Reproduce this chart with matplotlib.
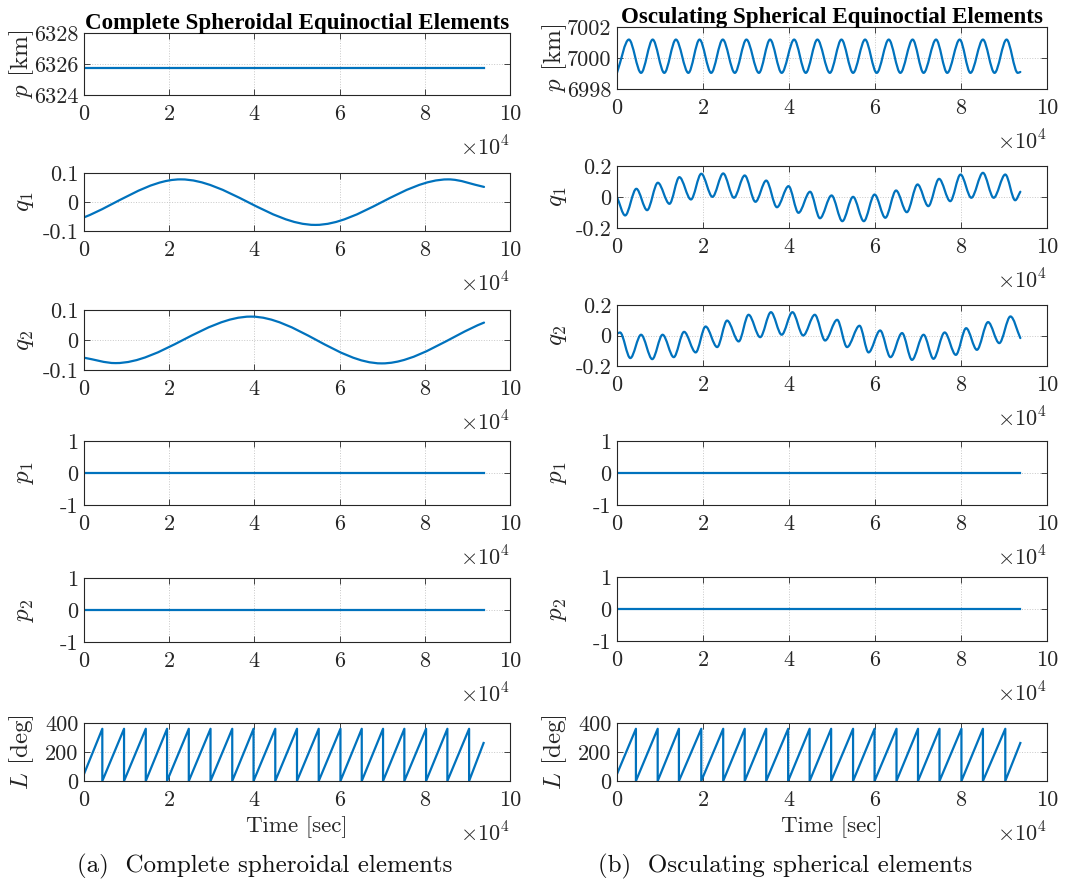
import numpy as np
import matplotlib
matplotlib.use("Agg")
import matplotlib.pyplot as plt
from matplotlib.path import Path
from matplotlib.patches import PathPatch

plt.rcParams['font.family'] = 'serif'
plt.rcParams['font.serif'] = ['cmr10']
plt.rcParams['mathtext.fontset'] = 'cm'
plt.rcParams['axes.unicode_minus'] = False
plt.rcParams['axes.formatter.use_mathtext'] = True

# ---------------- data (time in units of 1e4 s) ----------------
t_end = 9.38

# Complete spheroidal elements (left column)
p_left = 6325.75
q1_left_t = [0.0, 2.27, 5.43, 8.55, 9.39]
q1_left_v = [-0.053, 0.078, -0.079, 0.078, 0.052]
q2_left_t = [0.0, 0.74, 3.92, 6.99, 9.39]
q2_left_v = [-0.059, -0.077, 0.078, -0.078, 0.058]
p1_left = 0.0
p2_left = 0.0
L_left_wraps = [0.43, 0.94, 1.45, 1.95, 2.46, 2.97, 3.48, 3.98, 4.49, 5.00,
                5.51, 6.02, 6.52, 7.02, 7.52, 8.03, 8.53, 9.04]
L_left_start, L_left_end = 48.0, 262.0

# Osculating spherical elements (right column)
p_right_t = [0.0, 0.277, 0.56, 0.83, 1.10, 1.37, 1.66, 1.92, 2.19, 2.46, 2.74,
             3.01, 3.30, 3.56, 3.83, 4.12, 4.39, 4.66, 4.95, 5.22, 5.49, 5.77,
             6.04, 6.32, 6.59, 6.875, 7.13, 7.42, 7.68, 7.97, 8.22, 8.51, 8.78,
             9.06, 9.32, 9.38]
p_right_v = [6999.05, 7001.19, 6999.04, 7001.19, 6999.04, 7001.19, 6999.04,
             7001.19, 6999.04, 7001.19, 6999.04, 7001.19, 6999.04, 7001.19,
             6999.04, 7001.19, 6999.04, 7001.19, 6999.04, 7001.19, 6999.04,
             7001.19, 6999.04, 7001.19, 6999.04, 7001.19, 6999.04, 7001.19,
             6999.04, 7001.19, 6999.04, 7001.19, 6999.04, 7001.19, 6999.04,
             6999.10]
q1_right_t = [0.0, 0.19, 0.45, 0.70, 0.95, 1.22, 1.45, 1.72, 1.96, 2.22, 2.47,
              2.72, 2.97, 3.22, 3.47, 3.72, 3.99, 4.22, 4.49, 4.72, 4.99, 5.24,
              5.49, 5.74, 5.99, 6.24, 6.49, 6.74, 6.99, 7.24, 7.49, 7.75, 7.99,
              8.24, 8.51, 8.76, 9.03, 9.26, 9.38]
q1_right_v = [0.0, -0.119, 0.053, -0.085, 0.092, -0.044, 0.128, -0.016, 0.150,
              0.001, 0.152, -0.005, 0.139, -0.031, 0.106, -0.066, 0.070, -0.102,
              0.034, -0.137, 0.010, -0.156, 0.001, -0.156, 0.016, -0.134, 0.042,
              -0.098, 0.081, -0.059, 0.117, -0.027, 0.145, -0.005, 0.156, -0.005,
              0.145, -0.021, 0.034]
q2_right_t = [0.0, 0.07, 0.31, 0.56, 0.82, 1.06, 1.32, 1.56, 1.83, 2.06, 2.33,
              2.56, 2.83, 3.06, 3.33, 3.58, 3.83, 4.08, 4.33, 4.60, 4.84, 5.12,
              5.35, 5.64, 5.85, 6.12, 6.36, 6.63, 6.86, 7.13, 7.36, 7.62, 7.88,
              8.12, 8.37, 8.63, 8.89, 9.15, 9.38]
q2_right_v = [0.011, 0.020, -0.148, 0.005, -0.155, 0.005, -0.142, 0.024, -0.111,
              0.059, -0.076, 0.098, -0.039, 0.136, -0.011, 0.153, 0.005, 0.153,
              0.0, 0.136, -0.033, 0.103, -0.076, 0.064, -0.111, 0.033, -0.142,
              0.016, -0.160, 0.005, -0.153, 0.020, -0.127, 0.048, -0.094, 0.088,
              -0.050, 0.125, -0.017]
p1_right = 0.0
p2_right = 0.0
L_right_wraps = [0.44, 0.946, 1.44, 1.96, 2.47, 2.97, 3.47, 3.98, 4.48, 4.98,
                 5.49, 5.99, 6.50, 7.00, 7.50, 8.01, 8.51, 9.03]
L_right_start, L_right_end = 48.0, 262.0

x_ticks = [0, 2, 4, 6, 8, 10]
x_ticklabels = ['0', '2', '4', '6', '8', '10']

titles = ['Complete Spheroidal Equinoctial Elements',
          'Osculating Spherical Equinoctial Elements']
captions = ['(a)  Complete spheroidal elements', '(b)  Osculating spherical elements']
ylabels = [r'$p$ [km]', r'$q_1$', r'$q_2$', r'$p_1$', r'$p_2$', r'$L$ [deg]']

yticks_left = [[6324, 6326, 6328], [-0.1, 0, 0.1], [-0.1, 0, 0.1], [-1, 0, 1], [-1, 0, 1], [0, 200, 400]]
yticklabels_left = [['6324', '6326', '6328'], ['-0.1', '0', '0.1'], ['-0.1', '0', '0.1'],
                    ['-1', '0', '1'], ['-1', '0', '1'], ['0', '200', '400']]
yticks_right = [[6998, 7000, 7002], [-0.2, 0, 0.2], [-0.2, 0, 0.2], [-1, 0, 1], [-1, 0, 1], [0, 200, 400]]
yticklabels_right = [['6998', '7000', '7002'], ['-0.2', '0', '0.2'], ['-0.2', '0', '0.2'],
                     ['-1', '0', '1'], ['-1', '0', '1'], ['0', '200', '400']]

# ---------------- style ----------------
W, H = 1066, 890
LINE = '#0072BD'
LW = 1.6
TICK_FS = 16
TXT = '#262626'

left_rows = [(33, 95), (173, 231), (310, 370), (441, 505), (578, 642), (723, 781)]
right_rows = [(27, 89), (166, 228), (305, 366), (441, 505), (577, 641), (723, 781)]
left_x = (84, 510)
right_x = (617, 1047)

fig = plt.figure(figsize=(W / 100, H / 100), dpi=100)


def make_ax(xr, yr):
    return fig.add_axes([xr[0] / W, 1 - yr[1] / H, (xr[1] - xr[0]) / W, (yr[1] - yr[0]) / H])


def smooth_curve(ax, t, y):
    t = np.asarray(t, float) * 1e4
    y = np.asarray(y, float)
    n = len(t)
    m = np.zeros(n)
    for i in range(n):
        if i == 0:
            m[i] = (y[1] - y[0]) / (t[1] - t[0])
        elif i == n - 1:
            m[i] = (y[-1] - y[-2]) / (t[-1] - t[-2])
        else:
            s0 = (y[i] - y[i - 1]) / (t[i] - t[i - 1])
            s1 = (y[i + 1] - y[i]) / (t[i + 1] - t[i])
            m[i] = 0.0 if s0 * s1 <= 0 else 0.5 * (s0 + s1)
    verts = [(t[0], y[0])]
    codes = [Path.MOVETO]
    for i in range(n - 1):
        dt = t[i + 1] - t[i]
        verts += [(t[i] + dt / 3, y[i] + m[i] * dt / 3),
                  (t[i + 1] - dt / 3, y[i + 1] - m[i + 1] * dt / 3),
                  (t[i + 1], y[i + 1])]
        codes += [Path.CURVE4] * 3
    ax.add_patch(PathPatch(Path(verts, codes), facecolor='none', edgecolor=LINE,
                           lw=LW, capstyle='round', joinstyle='round'))


def sawtooth(ax, wraps, start, end):
    ts = [0.0]
    vs = [start]
    for w in wraps:
        ts += [w, w]
        vs += [360.0, 0.0]
    ts.append(t_end)
    vs.append(end)
    ax.plot(np.array(ts) * 1e4, vs, color=LINE, lw=LW)


def style(ax, yticks, yticklabels, ylabel, xlabel=None):
    ax.set_xlim(0, 1e5)
    ax.set_ylim(yticks[0], yticks[-1])
    ax.set_xticks([v * 1e4 for v in x_ticks])
    ax.set_xticklabels(x_ticklabels)
    ax.set_yticks(yticks)
    ax.set_yticklabels(yticklabels)
    ax.tick_params(direction='in', top=True, right=True, length=4, width=0.6,
                   labelsize=TICK_FS, colors=TXT)
    ax.tick_params(axis='x', pad=7)
    ax.tick_params(axis='y', pad=4)
    for s in ax.spines.values():
        s.set_color(TXT)
        s.set_linewidth(0.8)
    ax.grid(True, linestyle=':', color='#c8c8c8', linewidth=0.7)
    ax.set_axisbelow(True)
    ax.set_ylabel(ylabel, fontsize=18, color=TXT)
    ax.yaxis.set_label_coords(-0.112, 0.5)
    if xlabel:
        ax.set_xlabel(xlabel, fontsize=16.5, color=TXT, labelpad=4)
    ax.annotate(r'$\times10^4$', xy=(1.0, 0.0), xycoords='axes fraction',
                xytext=(0, -38), textcoords='offset points', ha='right', va='center',
                fontsize=16, color=TXT)


# ---------------- left column ----------------
axL = [make_ax(left_x, r) for r in left_rows]
axL[0].plot([0, t_end * 1e4], [p_left, p_left], color=LINE, lw=LW)
smooth_curve(axL[1], q1_left_t, q1_left_v)
smooth_curve(axL[2], q2_left_t, q2_left_v)
axL[3].plot([0, t_end * 1e4], [p1_left, p1_left], color=LINE, lw=LW)
axL[4].plot([0, t_end * 1e4], [p2_left, p2_left], color=LINE, lw=LW)
sawtooth(axL[5], L_left_wraps, L_left_start, L_left_end)

# ---------------- right column ----------------
axR = [make_ax(right_x, r) for r in right_rows]
smooth_curve(axR[0], p_right_t, p_right_v)
smooth_curve(axR[1], q1_right_t, q1_right_v)
smooth_curve(axR[2], q2_right_t, q2_right_v)
axR[3].plot([0, t_end * 1e4], [p1_right, p1_right], color=LINE, lw=LW)
axR[4].plot([0, t_end * 1e4], [p2_right, p2_right], color=LINE, lw=LW)
sawtooth(axR[5], L_right_wraps, L_right_start, L_right_end)

for i in range(6):
    xl = 'Time [sec]' if i == 5 else None
    style(axL[i], yticks_left[i], yticklabels_left[i], ylabels[i], xl)
    style(axR[i], yticks_right[i], yticklabels_right[i], ylabels[i], xl)

axL[0].set_title(titles[0], fontfamily='Liberation Serif', fontweight='bold', fontsize=16.6, pad=3)
axR[0].set_title(titles[1], fontfamily='Liberation Serif', fontweight='bold', fontsize=16.6, pad=3)

fig.text(265 / W, 1 - 866 / H, captions[0], ha='center', va='center', fontsize=18, color='#111111')
fig.text(785 / W, 1 - 866 / H, captions[1], ha='center', va='center', fontsize=18, color='#111111')

fig.savefig('out.png', dpi=100, facecolor='white')
